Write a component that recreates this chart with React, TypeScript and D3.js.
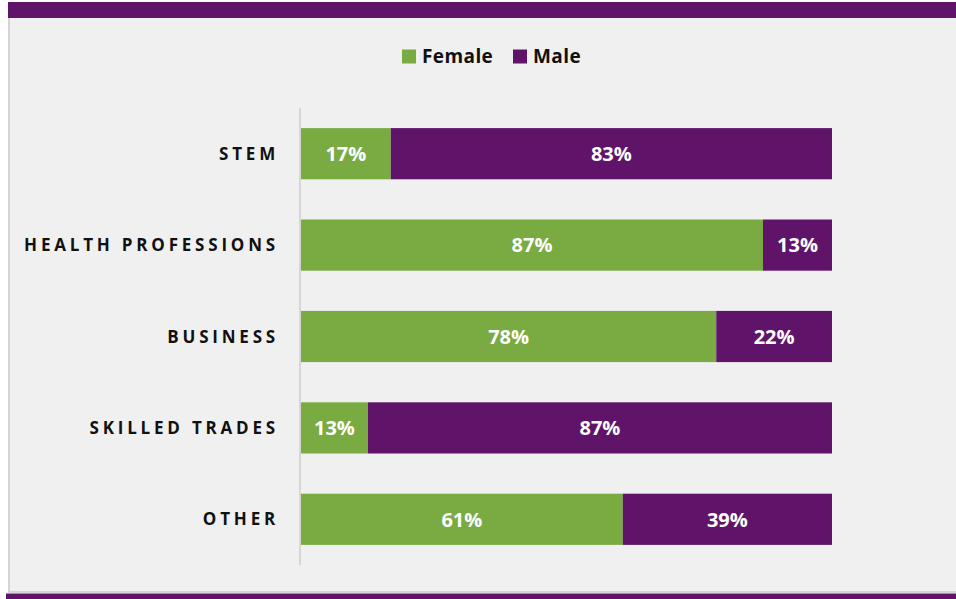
import React from "react";
import * as d3 from "d3";

const categories = ["STEM", "HEALTH PROFESSIONS", "BUSINESS", "SKILLED TRADES", "OTHER"];
const female = [16.9, 87.0, 78.2, 12.6, 60.6];
const male = [83.1, 13.0, 21.8, 87.4, 39.4];
const seriesNames = ["Female", "Male"];
const colors = ["#7aab43", "#5f1469"];

const W = 956;
const H = 599;

export default function App() {
  const x = d3.scaleLinear().domain([0, 100]).range([301, 832]);
  const y = d3
    .scaleBand<string>()
    .domain(categories)
    .range([108, 565])
    .paddingInner(0.44)
    .paddingOuter(0.22);

  const rows = categories.map((c, i) => ({ c, f: female[i], m: male[i] }));
  const font = "'Open Sans', sans-serif";

  return (
    <svg
      width={W}
      height={H}
      style={{ position: "absolute", left: 0, top: 0, display: "block" }}
      fontFamily={font}
    >
      <rect x={0} y={0} width={W} height={H} fill="#ffffff" />
      {/* panel */}
      <rect x={8} y={18} width={W - 8} height={575} fill="#f0f0f0" />
      <rect x={8} y={18} width={2} height={575} fill="#d4d4d4" />
      <rect x={8} y={591} width={W - 8} height={2} fill="#d4d4d4" />
      {/* purple bands */}
      <rect x={8} y={2} width={W - 8} height={16} fill="#5f1469" />
      <rect x={6} y={593.5} width={W - 6} height={6} fill="#5f1469" />

      {/* legend */}
      {seriesNames.map((s, i) => {
        const lx = i === 0 ? 402 : 513;
        return (
          <g key={s}>
            <rect x={lx} y={49.5} width={14} height={14} fill={colors[i]} />
            <text
              x={lx + 20}
              y={63}
              fontSize={19}
              fontWeight={700}
              letterSpacing={0.4}
              fill="#111"
            >
              {s}
            </text>
          </g>
        );
      })}

      {/* axis line */}
      <line x1={300} x2={300} y1={108} y2={565} stroke="#d6d6d6" strokeWidth={2} />

      {rows.map((r) => {
        const by = y(r.c)!;
        const bh = y.bandwidth();
        const fx0 = x(0);
        const fx1 = x(r.f);
        const mx1 = x(r.f + r.m);
        return (
          <g key={r.c}>
            <rect x={fx0} y={by} width={fx1 - fx0} height={bh} fill={colors[0]} />
            <rect x={fx1} y={by} width={mx1 - fx1} height={bh} fill={colors[1]} />
            <text
              x={(fx0 + fx1) / 2}
              y={by + bh / 2}
              dy="0.36em"
              textAnchor="middle"
              fill="#fff"
              fontSize={20}
              fontWeight={700}
            >
              {Math.round(r.f)}%
            </text>
            <text
              x={(fx1 + mx1) / 2}
              y={by + bh / 2}
              dy="0.36em"
              textAnchor="middle"
              fill="#fff"
              fontSize={20}
              fontWeight={700}
            >
              {Math.round(r.m)}%
            </text>
            <text
              x={279}
              y={by + bh / 2}
              dy="0.36em"
              textAnchor="end"
              fill="#111"
              fontSize={17}
              fontWeight={700}
              letterSpacing={3.8}
            >
              {r.c}
            </text>
          </g>
        );
      })}
    </svg>
  );
}
